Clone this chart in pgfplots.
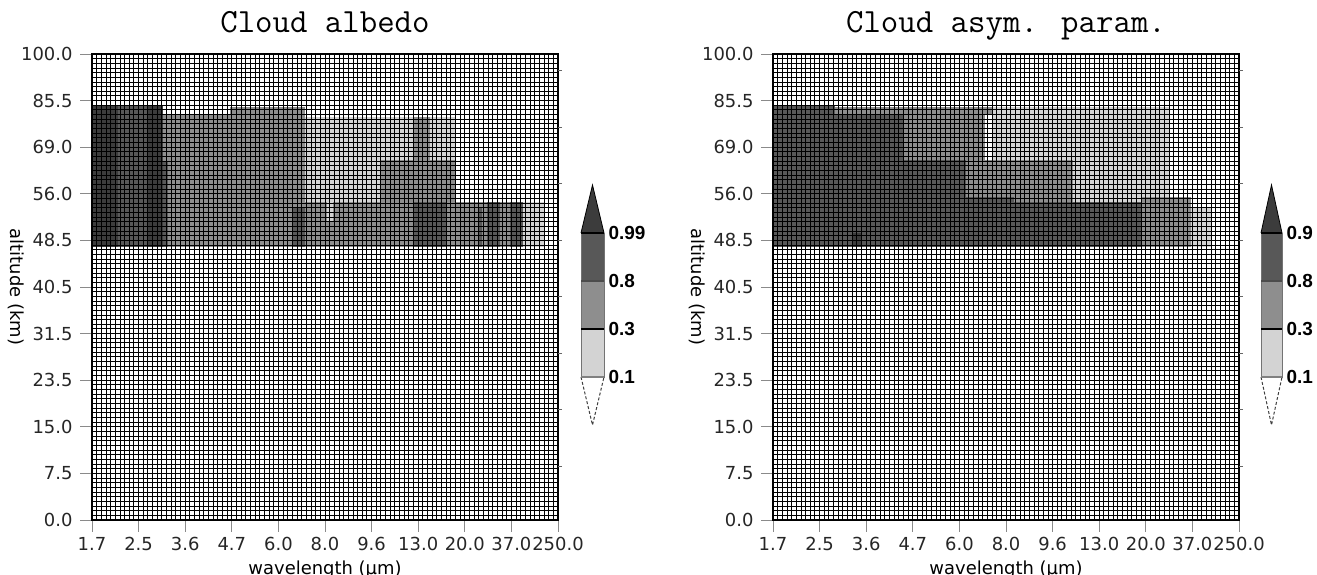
\documentclass[border=0pt]{standalone}
\usepackage{fontspec}
\setmainfont{DejaVu Sans}
\newfontfamily\cbfont{Liberation Sans}
\usepackage{pgfplots}
\pgfplotsset{compat=1.18}
\definecolor{Lfive}{HTML}{3C3C3C}
\definecolor{Lfour}{HTML}{585858}
\definecolor{Lthree}{HTML}{8E8E8E}
\definecolor{Ltwo}{HTML}{D3D3D3}
\definecolor{tickgray}{HTML}{8A8A8A}
\newcommand\rect[5]{\addplot[fill=#1,draw=none,forget plot] coordinates {(#2,#4) (#3,#4) (#3,#5) (#2,#5)};}
\pgfplotsset{
  panel/.style={
    anchor=south west, scale only axis, width=466bp, height=466bp,
    xmin=0, xmax=100, ymin=0, ymax=100,
    xtick={0,10,...,100}, ytick={0,10,...,100},
    xticklabels={1.7,2.5,3.6,4.7,6.0,8.0,9.6,13.0,20.0,37.0,250.0},
    yticklabels={0.0,7.5,15.0,23.5,31.5,40.5,48.5,56.0,69.0,85.5,100.0},
    minor tick num=9, grid=both,
    major grid style={black, line width=0.9bp},
    minor grid style={black, line width=0.9bp},
    minor tick length=0pt, major tick length=12bp,
    tick align=outside, xtick pos=bottom, ytick pos=left,
    tick style={tickgray, line width=0.8bp},
    axis line style={black, line width=1.5bp},
    axis on top,
    tick label style={font=\fontsize{18}{20}\selectfont, text=black!85},
    yticklabel style={xshift=-4bp},
    xticklabel style={yshift=-2bp},
    title style={font=\ttfamily\fontsize{34}{37}\selectfont, at={(0.5,1)}, anchor=base, yshift=16bp},
    xlabel={wavelength (μm)},
    every axis x label/.style={at={(axis description cs:0.5,0)}, anchor=base, yshift=-54bp, font=\fontsize{18}{20}\selectfont},
    ylabel={altitude (km)},
    every axis y label/.style={at={(axis description cs:-0.174,0.5)}, anchor=base, rotate=-90, font=\fontsize{18}{20}\selectfont},
  },
  rticks/.style={
    anchor=south west, scale only axis, width=466bp, height=466bp,
    xmin=0, xmax=100, ymin=0, ymax=100,
    axis x line=none, axis y line*=right, axis line style={draw=none},
    ytick={11.6,23.7,35.8,48,60.1,72.2,84.3,96.4}, yticklabels={},
    major tick length=4bp, tick align=outside, tick style={black!60, line width=0.8bp},
  },
  cbar/.style={
    anchor=south west, scale only axis, width=23bp, height=240bp,
    xmin=0, xmax=1, ymin=0, ymax=5, clip=false,
    axis line style={draw=none}, xtick=\empty, ytick={1,2,3,4},
    yticklabel pos=right, major tick length=0pt,
    yticklabel style={font=\cbfont\bfseries\fontsize{19}{21}\selectfont, xshift=1bp},
  },
}
\begin{document}
\begin{tikzpicture}
\useasboundingbox (0bp,0bp) rectangle (1317bp,575bp);
% ---------------- left panel ----------------
\begin{axis}[panel, at={(92bp,55bp)}, title={Cloud albedo}]
\rect{Lthree}{15.2}{45.7}{58.6}{86.9}
\rect{Lthree}{29.6}{45.7}{86.9}{88.6}
\rect{Lfour}{0}{15.2}{58.6}{88.9}
\rect{Lfive}{0}{5.6}{58.6}{88.9}
\rect{Lfive}{12}{15.2}{58.6}{88.9}
\rect{Lfour}{15.2}{16.3}{58.6}{76.8}
\rect{Lfour}{42.9}{45.7}{58.6}{67.2}
\rect{Ltwo}{45.7}{77.9}{68.2}{86.5}
\rect{Lthree}{61.8}{77.9}{68.2}{77.3}
\rect{Lthree}{68.9}{72.5}{77.3}{86.5}
\rect{Lthree}{45.7}{92.5}{58.6}{68.2}
\rect{Ltwo}{50.4}{51.7}{63.9}{68.2}
\rect{Lfour}{68.9}{76.2}{58.6}{68.2}
\rect{Lfour}{82.8}{83.7}{58.6}{67.2}
\rect{Lfour}{84.8}{87.5}{58.6}{68.2}
\rect{Lfour}{89.7}{92.5}{58.6}{68.2}
\rect{Ltwo}{92.5}{97.2}{58.6}{68.2}
\end{axis}
\begin{axis}[rticks, at={(92bp,55bp)}]
\end{axis}
% colorbar left
\begin{axis}[cbar, at={(581bp,150bp)}, yticklabels={0.1,0.3,0.8,0.99}]
\addplot[fill=white, draw=none] coordinates {(0,1) (0.5,0) (1,1)};
\addplot[black!75, densely dashed, line width=1bp] coordinates {(0,1) (0.5,0) (1,1)};
\addplot[fill=Ltwo, draw=black!55, line width=0.6bp] coordinates {(0,1) (1,1) (1,2) (0,2) (0,1)};
\addplot[fill=Lthree, draw=black!55, line width=0.6bp] coordinates {(0,2) (1,2) (1,3) (0,3) (0,2)};
\addplot[fill=Lfour, draw=black!55, line width=0.6bp] coordinates {(0,3) (1,3) (1,4) (0,4) (0,3)};
\addplot[fill=Lfive, draw=black, line width=0.8bp] coordinates {(0,4) (0.5,5) (1,4)};
\addplot[black!50, line width=1.2bp] coordinates {(0,1) (1,1)};
\addplot[black, line width=1.4bp] coordinates {(0,2) (1,2)};
\addplot[black!70, line width=1.2bp] coordinates {(0,3) (1,3)};
\addplot[black, line width=1.4bp] coordinates {(0,4) (1,4)};
\end{axis}
% ---------------- right panel ----------------
\begin{axis}[panel, at={(773bp,55bp)}, title={Cloud asym. param.}]
\rect{Ltwo}{47}{85}{68.2}{88.6}
\rect{Lthree}{13.3}{47}{86.9}{88.6}
\rect{Lthree}{27.9}{45.5}{77.3}{86.9}
\rect{Lfour}{0}{13.3}{58.6}{88.9}
\rect{Lfour}{13.3}{27.9}{58.6}{86.9}
\rect{Lfour}{27.9}{41.4}{58.6}{77.3}
\rect{Lthree}{41.4}{64.4}{68.2}{77.3}
\rect{Lfour}{41.4}{51.7}{58.6}{69.3}
\rect{Lfour}{51.7}{79}{58.6}{68.2}
\rect{Lthree}{79}{89.7}{58.6}{69.3}
\rect{Ltwo}{89.7}{94.2}{58.6}{67.2}
\rect{Lfive}{17}{19.1}{58.6}{61.5}
\end{axis}
\begin{axis}[rticks, at={(773bp,55bp)}]
\end{axis}
% colorbar right
\begin{axis}[cbar, at={(1261bp,150bp)}, width=21bp, yticklabels={0.1,0.3,0.8,0.9}]
\addplot[fill=white, draw=none] coordinates {(0,1) (0.5,0) (1,1)};
\addplot[black!75, densely dashed, line width=1bp] coordinates {(0,1) (0.5,0) (1,1)};
\addplot[fill=Ltwo, draw=black!55, line width=0.6bp] coordinates {(0,1) (1,1) (1,2) (0,2) (0,1)};
\addplot[fill=Lthree, draw=black!55, line width=0.6bp] coordinates {(0,2) (1,2) (1,3) (0,3) (0,2)};
\addplot[fill=Lfour, draw=black!55, line width=0.6bp] coordinates {(0,3) (1,3) (1,4) (0,4) (0,3)};
\addplot[fill=Lfive, draw=black, line width=0.8bp] coordinates {(0,4) (0.5,5) (1,4)};
\addplot[black!50, line width=1.2bp] coordinates {(0,1) (1,1)};
\addplot[black, line width=1.4bp] coordinates {(0,2) (1,2)};
\addplot[black!70, line width=1.2bp] coordinates {(0,3) (1,3)};
\addplot[black, line width=1.4bp] coordinates {(0,4) (1,4)};
\end{axis}
\end{tikzpicture}
\end{document}
